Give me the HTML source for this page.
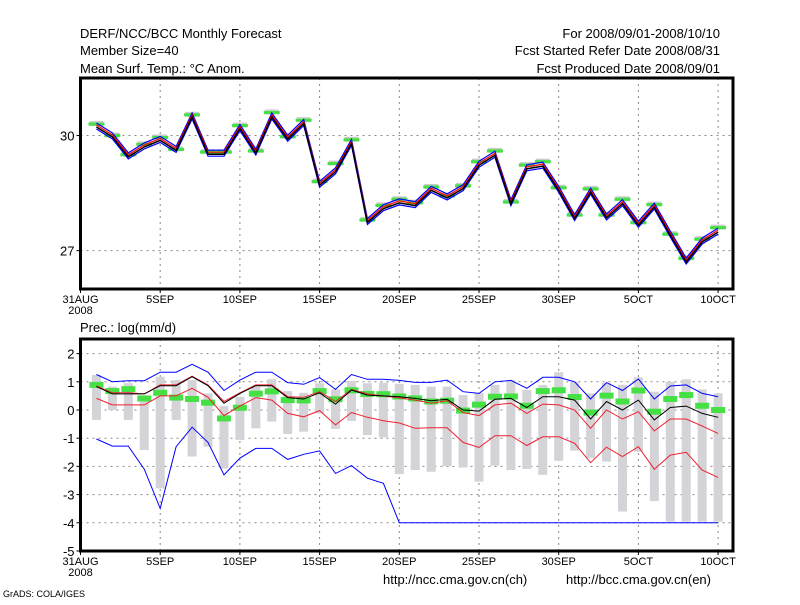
<!DOCTYPE html>
<html><head><meta charset="utf-8"><style>
body{margin:0;background:#fff;}
svg text{font-family:"Liberation Sans",sans-serif;fill:#000;}
</style></head><body>
<svg id="chart" width="800" height="600" xmlns="http://www.w3.org/2000/svg">
<rect width="800" height="600" fill="#fff"/>
<text x="80" y="38" font-size="13">DERF/NCC/BCC Monthly Forecast</text>
<text x="80" y="55" font-size="13">Member Size=40</text>
<text x="80" y="73" font-size="13">Mean Surf. Temp.: °C Anom.</text>
<text x="720" y="38" font-size="13" text-anchor="end">For 2008/09/01-2008/10/10</text>
<text x="720" y="55" font-size="13" text-anchor="end">Fcst Started Refer Date 2008/08/31</text>
<text x="720" y="73" font-size="13" text-anchor="end">Fcst Produced Date 2008/09/01</text>
<text x="80" y="332" font-size="13">Prec.: log(mm/d)</text>
<text x="383" y="584" font-size="13">http://ncc.cma.gov.cn(ch)</text>
<text x="566" y="584" font-size="13">http://bcc.cma.gov.cn(en)</text>
<text x="3" y="597" font-size="9">GrADS: COLA/IGES</text>
<g id="g"></g>
</svg>
<script>
const tickLabels=["31AUG","5SEP","10SEP","15SEP","20SEP","25SEP","30SEP","5OCT","10OCT"];
const tempMean=[30.25,29.99,29.47,29.73,29.9,29.64,30.51,29.54,29.54,30.21,29.57,30.51,29.93,30.34,28.73,29.08,29.82,27.76,28.12,28.27,28.2,28.6,28.4,28.64,29.25,29.51,28.25,29.16,29.23,28.6,27.86,28.55,27.88,28.25,27.69,28.16,27.43,26.73,27.25,27.51];
const tempObs=[30.3,30.0,29.5,29.77,29.95,29.64,30.54,29.57,29.57,30.26,29.6,30.6,29.97,30.4,28.8,29.27,29.89,27.8,28.18,28.34,28.25,28.66,28.43,28.69,29.32,29.6,28.27,29.23,29.32,28.64,27.93,28.61,27.93,28.34,27.73,28.2,27.43,26.8,27.3,27.6];
const tempTicks=[30,27];
const prBlueHi=[1.26,1.0,1.04,1.04,1.34,1.34,1.62,1.34,0.69,1.06,1.34,1.34,0.97,0.91,1.15,0.73,1.26,1.09,1.09,1.05,0.98,0.98,1.06,0.65,0.59,1.0,1.05,0.77,1.16,1.16,1.0,0.39,0.97,0.69,1.1,0.39,0.85,0.89,0.59,0.47];
const prMean=[0.83,0.57,0.57,0.57,0.86,0.86,1.18,0.86,0.24,0.59,0.86,0.86,0.44,0.39,0.61,0.21,0.71,0.53,0.5,0.47,0.41,0.33,0.38,0,-0.04,0.38,0.41,0.09,0.47,0.47,0.35,-0.32,0.3,0,0.35,-0.35,0.09,0.14,-0.12,-0.26];
const prRedHi=[0.85,0.61,0.61,0.57,0.89,0.89,1.2,0.89,0.3,0.61,0.89,0.89,0.47,0.45,0.65,0.3,0.73,0.57,0.5,0.43,0.35,0.24,0.33,-0.09,-0.2,0.18,0.24,-0.12,0.21,0.18,0,-0.65,0,-0.32,-0.06,-0.74,-0.32,-0.32,-0.57,-0.83];
const prRedLo=[0.41,0.18,0.18,0.18,0.5,0.5,0.77,0.45,-0.2,0.14,0.44,0.35,-0.12,-0.24,-0.02,-0.53,-0.09,-0.26,-0.38,-0.46,-0.65,-0.63,-0.63,-1.15,-1.33,-0.91,-0.91,-1.26,-0.95,-0.95,-1.18,-1.87,-1.32,-1.65,-1.3,-2.1,-1.6,-1.5,-2.13,-2.39];
const prBlueLo=[-1.03,-1.28,-1.28,-2.1,-3.49,-1.3,-0.61,-1.15,-2.3,-1.71,-1.36,-1.36,-1.75,-1.57,-1.45,-2.25,-1.97,-2.42,-2.6,-4,-4,-4,-4,-4,-4,-4,-4,-4,-4,-4,-4,-4,-4,-4,-4,-4,-4,-4,-4,-4];
const prObs=[0.89,0.67,0.74,0.41,0.61,0.44,0.39,0.26,-0.3,0.08,0.58,0.66,0.35,0.34,0.67,0.38,0.7,0.57,0.56,0.48,0.41,0.3,0.33,-0.02,0.19,0.47,0.48,0.15,0.67,0.7,0.46,-0.09,0.51,0.3,0.69,-0.06,0.39,0.53,0.15,0];
const prMax=[1.24,0.83,0.95,0.47,1.18,1.06,1.06,0.59,0.14,0.47,0.83,1.09,0.67,0.61,0.95,0.73,1.03,0.95,0.97,0.93,0.89,0.83,0.83,0.53,0.61,0.89,1.06,0.71,0.89,1.34,1.0,0.59,0.95,0.89,1.16,0.65,1.0,1.09,0.73,0.59];
const prMin=[-0.35,0,-0.35,-1.42,-2.78,-0.35,-1.65,-1.3,-2.07,-1.06,-0.65,-0.41,-0.85,-0.77,-0.12,-0.67,-0.39,-0.89,-0.97,-2.27,-2.13,-2.19,-1.99,-2.04,-2.54,-1.97,-2.13,-2.09,-2.3,-1.8,-1.44,-1.71,-1.83,-3.6,-1.48,-3.23,-3.96,-3.96,-3.96,-3.96];
const prTicks=[2,1,0,-1,-2,-3,-4,-5];

const NS="http://www.w3.org/2000/svg";
const G=document.getElementById('g');
function mk(t,a,name,parent){const e=document.createElementNS(NS,t);for(const k in a)e.setAttribute(k,a[k]);


(parent||G).appendChild(e);return e;}
const X0=80.5,L=80.5,R=733;
const xs=d=>X0+d*15.94;
const yT=v=>78+(31.5-v)*(211/5.5);
const yP=v=>410-v*28.2;
function line(arr,fy,color,name,w,dy){let p=arr.map((v,i)=>xs(i+1).toFixed(1)+','+(fy(v)+(dy||0)).toFixed(1)).join(' ');
mk('polyline',{points:p,fill:'none',stroke:color,'stroke-width':w||1},name);}
function frame(top,bot,name,yticks,fy,title){
 for(let i=1;i<tickLabels.length;i++){mk('line',{x1:xs(i*5),x2:xs(i*5),y1:top,y2:bot,stroke:'#888','stroke-dasharray':'2,4'},'x-grid');}
 yticks.forEach(v=>{const y=fy(v);if(y>top+2&&y<bot-2)mk('line',{x1:L,x2:R,y1:y,y2:y,stroke:'#888','stroke-dasharray':'2,4'},'y-grid');
  mk('line',{x1:L-4,x2:L,y1:y,y2:y,stroke:'#000'},'y-tick');
  const t=mk('text',{x:L-6,y:y+5,'font-size':13,'text-anchor':'end'},'y-tick-label');t.textContent=v;});
 tickLabels.forEach((s,i)=>{const x=xs(i*5);mk('line',{x1:x,x2:x,y1:bot,y2:bot+4,stroke:'#000'},'x-tick');
  const t=mk('text',{x:x,y:bot+14,'font-size':11,'text-anchor':'middle'},'x-tick-label');t.textContent=s;});
 const t=mk('text',{x:L,y:bot+25,'font-size':11,'text-anchor':'middle'},'x-year-label');t.textContent='2008';
}
function border(top,bot,name){mk('rect',{x:L,y:top,width:R-L,height:bot-top,fill:'none',stroke:'#000','stroke-width':3},name);}
// top panel
frame(78,289,'temp',tempTicks,yT);
tempObs.forEach((v,i)=>{mk('rect',{x:xs(i+1)-7,y:yT(v)-3,width:14,height:5,fill:'#ccc'},'temp-spread-mark');});
tempObs.forEach((v,i)=>{mk('rect',{x:xs(i+1)-8,y:yT(v)-1.5,width:16,height:3,fill:'#44e044'},'temp-obs-mark');});
line(tempMean,yT,'#00f','temp-upper-bound',1.2,-3);
line(tempMean,yT,'#00f','temp-lower-bound',1.2,3);
line(tempMean,yT,'#f00','temp-member-line',1.2,-1);
line(tempMean,yT,'#000','temp-mean-line',1.5,1);
border(78,289,'temp-panel-frame');
// bottom panel
frame(339,551,'precip',prTicks,yP);
prMax.forEach((v,i)=>{mk('rect',{x:xs(i+1)-4.5,y:yP(v),width:9,height:yP(prMin[i])-yP(v),fill:'#d3d3d8'},'precip-range-bar');});
prObs.forEach((v,i)=>{mk('rect',{x:xs(i+1)-7,y:yP(v)-3,width:14,height:6,fill:'#44e044'},'precip-obs-mark');});
line(prBlueHi,yP,'#00f','precip-max-line',1);
line(prRedHi,yP,'#f02030','precip-upper-line',1);
line(prMean,yP,'#000','precip-mean-line',1);
line(prRedLo,yP,'#f02030','precip-lower-line',1);
line(prBlueLo,yP,'#00f','precip-min-line',1);
border(339,551,'precip-panel-frame');
</script>
</body></html>
